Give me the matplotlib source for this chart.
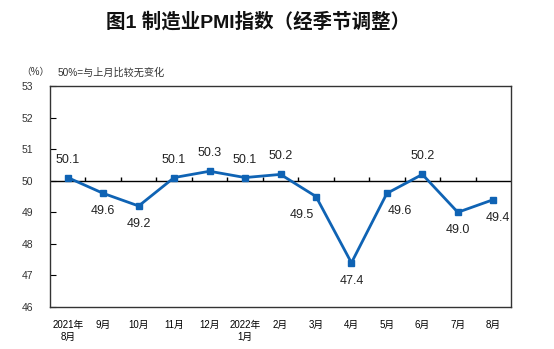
import numpy as np
import matplotlib.pyplot as plt

# PMI data, Aug 2021 - Aug 2022
months = ['2021年\n8月', '9月', '10月', '11月', '12月', '2022年\n1月', '2月',
          '3月', '4月', '5月', '6月', '7月', '8月']
pmi = [50.1, 49.6, 49.2, 50.1, 50.3, 50.1, 50.2, 49.5, 47.4, 49.6, 50.2, 49.0, 49.4]
# 1 = label above point, -1 = below
label_side = [1, -1, -1, 1, 1, 1, 1, -1, -1, -1, 1, -1, -1]
yticks = [46, 47, 48, 49, 50, 51, 52, 53]

plt.rcParams['font.family'] = ['Liberation Sans', 'Noto Sans CJK SC']

fig = plt.figure(figsize=(5.54, 3.49), dpi=100)
ax = fig.add_axes([0.0903, 0.1203, 0.8321, 0.6333])

line_color = '#0f63b4'
x = np.arange(len(pmi))
ax.plot(x, pmi, color=line_color, lw=2, marker='s', ms=4.5, zorder=3)

# reference line at 50 with category tick marks
ax.axhline(50, color='black', lw=1, zorder=2)
ax.vlines(np.arange(len(pmi) - 1) + 0.5, 50, 50.13, color='black', lw=1, zorder=2)

# small horizontal nudges so labels clear the line
nudge = {7: -10, 9: 9, 12: 3}
for xi, v, s in zip(x, pmi, label_side):
    ax.annotate('%.1f' % v, (xi, v), xytext=(nudge.get(xi, 0), 13 * s),
                textcoords='offset points', ha='center', va='center',
                fontsize=9, color='#222222')

ax.set_xlim(-0.5, len(pmi) - 0.5)
ax.set_ylim(46, 53)
ax.set_yticks(yticks)
ax.set_xticks(x)
ax.set_xticklabels(months, fontsize=7, va='top', linespacing=1.3)
ax.tick_params(axis='x', length=0, pad=9)
ax.tick_params(axis='y', direction='in', length=4, pad=12, labelsize=7.5,
               labelcolor='#333333')
for sp in ax.spines.values():
    sp.set_color('#333333')
    sp.set_linewidth(1)

fig.text(0.465, 0.937, '图1 制造业PMI指数（经季节调整）', ha='center', va='center',
         fontsize=14, fontweight='bold', color='#111111')
fig.text(0.038, 0.793, '（%）', ha='left', va='center', fontsize=7, color='#333333')
fig.text(0.104, 0.793, '50%=与上月比较无变化', ha='left', va='center', fontsize=7.3,
         color='#333333')

fig.savefig('out.png', dpi=100)
